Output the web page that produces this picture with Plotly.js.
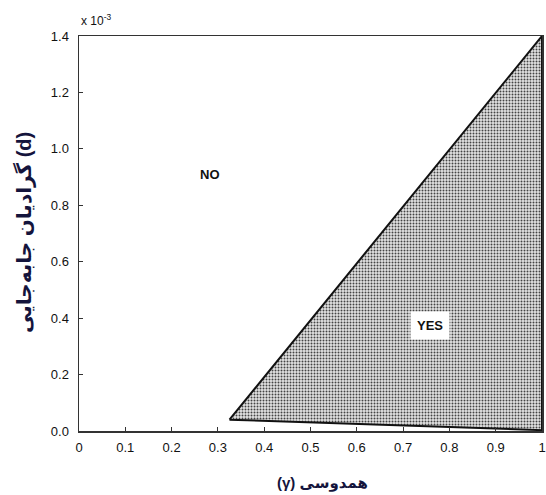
<!DOCTYPE html>
<html><head><meta charset="utf-8">
<script src="https://cdn.plot.ly/plotly-3.0.1.min.js"></script>
<style>html,body{margin:0;padding:0;background:#fff}#chart{width:546px;height:495px}</style>
</head><body><div id="chart"></div>
<script>
// Region boundary (coherence γ, displacement gradient d in units of 1e-3)
const regionX = [0.325, 1.0, 1.0, 0.325];
const regionY = [0.04, 1.4, 0.003, 0.04];
const xTicks = [0, 0.1, 0.2, 0.3, 0.4, 0.5, 0.6, 0.7, 0.8, 0.9, 1];
const xTickLabels = ['0', '0.1', '0.2', '0.3', '0.4', '0.5', '0.6', '0.7', '0.8', '0.9', '1'];
const yTicks = [0, 0.2, 0.4, 0.6, 0.8, 1.0, 1.2, 1.4];
const yTickLabels = ['0.0', '0.2', '0.4', '0.6', '0.8', '1.0', '1.2', '1.4'];
const labels = [{text: 'NO', x: 0.283, y: 0.91}, {text: 'YES', x: 0.758, y: 0.375}];
const xTitle = '(γ) همدوسی';
const yTitle = 'گرادیان جابه‌جایی (d)';

const font = 'Liberation Sans, Arial, DejaVu Sans, sans-serif';
const traces = [{
  x: regionX, y: regionY, type: 'scatter', mode: 'lines', fill: 'toself',
  fillcolor: '#d9d9d9',
  fillpattern: {shape: '.', fgcolor: '#444', bgcolor: '#e4e4e4', size: 3, solidity: 0.35},
  line: {color: '#111', width: 2}, hoverinfo: 'skip', showlegend: false
}];
const ann = labels.map((l, i) => ({
  x: l.x, y: l.y, xref: 'x', yref: 'y', text: '<b>' + l.text + '</b>', showarrow: false,
  font: {family: font, size: 13, color: '#111'},
  bgcolor: i === 1 ? '#fff' : 'rgba(0,0,0,0)', borderpad: 6
}));
ann.push({xref: 'paper', yref: 'paper', x: 0, y: 1, xanchor: 'left', yanchor: 'bottom', yshift: 6,
  text: 'x 10<sup>-3</sup>', showarrow: false, font: {family: font, size: 12, color: '#111'}});
ann.push({xref: 'paper', yref: 'paper', x: 0.024, y: 0, xanchor: 'center', yanchor: 'middle',
  xshift: 0, yshift: 0, ax: 0, ay: 0,
  text: '<b>' + xTitle + '</b>', showarrow: false, font: {family: font, size: 15, color: '#14143c'}});
const layout = {
  width: 546, height: 495, margin: {l: 79, r: 4, t: 36, b: 64},
  paper_bgcolor: '#fff', plot_bgcolor: '#fff', showlegend: false,
  xaxis: {range: [0, 1], tickvals: xTicks, ticktext: xTickLabels, ticks: 'inside', ticklen: 4,
    tickcolor: '#333', showline: true, linecolor: '#333', linewidth: 1.5, mirror: true,
    showgrid: false, zeroline: false, tickfont: {family: font, size: 13, color: '#111'},
    ticklabelstandoff: 4},
  yaxis: {range: [0, 1.4], tickvals: yTicks, ticktext: yTickLabels, ticks: 'inside', ticklen: 4,
    tickcolor: '#333', showline: true, linecolor: '#333', linewidth: 1.5, mirror: true,
    showgrid: false, zeroline: false, tickfont: {family: font, size: 13, color: '#111'},
    ticklabelstandoff: 6},
  annotations: []
};
// place axis titles as paper annotations at reference positions
ann.pop();
ann.push({xref: 'paper', yref: 'paper', x: (322 - 79) / 463, y: -(483 - 431) / 395,
  xanchor: 'center', yanchor: 'middle', showarrow: false,
  text: '<b>' + xTitle + '</b>', font: {family: font, size: 15, color: '#14143c'}});
ann.push({xref: 'paper', yref: 'paper', x: -(79 - 24) / 463, y: (431 - 233) / 395,
  xanchor: 'center', yanchor: 'middle', showarrow: false, textangle: -90,
  text: '<b>' + yTitle + '</b>', font: {family: font, size: 20, color: '#14143c'}});
layout.annotations = ann;
Plotly.newPlot('chart', traces, layout, {displayModeBar: false, staticPlot: true});
</script></body></html>
